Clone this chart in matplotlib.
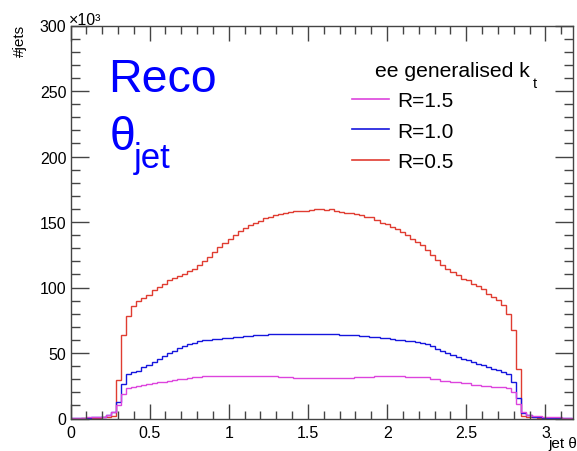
import matplotlib
matplotlib.use("Agg")
import matplotlib.pyplot as plt
import numpy as np
from matplotlib.lines import Line2D
from matplotlib.ticker import MultipleLocator

plt.rcParams['font.family'] = ['Liberation Sans', 'DejaVu Sans']

# jet theta histograms, 100 bins over [0, 3.2], counts in units of 10^3
n_bins = 100
theta_max = 3.2

red = [
    0.0, 0.0, 0.1, 0.2, 0.3, 0.5, 0.8, 1.2, 1.7,
    29.2, 64.0, 78.0, 85.6, 89.7, 92.3, 94.6, 97.9, 100.2, 102.5,
    105.5, 107.6, 108.9, 110.4, 112.4, 114.5, 117.0, 120.4, 123.4, 127.3,
    131.1, 134.1, 137.4, 139.7, 143.3, 145.5, 147.6, 149.4, 151.0, 152.7,
    154.1, 155.2, 155.9, 156.7, 157.5, 158.1, 158.3, 158.6, 158.9, 160.2,
    159.6, 159.1, 159.6, 158.6, 157.9, 157.1, 156.6, 155.8, 155.1, 154.0,
    153.6, 151.5, 149.4, 148.4, 146.4, 144.8, 142.6, 140.0, 137.4, 134.9,
    132.3, 128.5, 124.7, 120.8, 117.0, 114.5, 111.9, 109.4, 106.8, 105.5,
    103.0, 101.2, 98.6, 95.3, 92.8, 90.2, 86.4, 80.0, 67.2, 37.9,
    1.7, 1.2, 0.8, 0.5, 0.3, 0.2, 0.1, 0.0, 0.0, 0.0, 0.0]

blue = [
    0.2, 0.3, 0.4, 0.6, 0.8, 1.0, 1.4, 2.7, 4.8,
    12.9, 26.0, 34.0, 35.4, 36.6, 39.2, 41.2, 43.0, 45.6, 47.6,
    50.2, 51.9, 54.0, 55.7, 56.5, 57.8, 58.8, 59.6, 60.3, 60.9,
    60.9, 61.4, 61.4, 62.2, 62.2, 62.6, 62.8, 63.4, 63.4, 63.9,
    64.2, 64.4, 64.4, 64.5, 64.5, 64.6, 64.6, 64.5, 64.4, 64.4,
    64.4, 64.3, 64.2, 64.2, 64.1, 64.0, 63.8, 63.4, 63.2, 62.8,
    62.5, 62.2, 61.6, 61.2, 60.8, 60.3, 59.8, 59.4, 58.9, 58.5,
    57.5, 56.5, 55.3, 53.2, 51.9, 50.2, 48.1, 46.9, 45.6, 44.3,
    43.5, 41.7, 40.9, 39.2, 37.9, 37.4, 35.4, 34.1, 27.7, 15.5,
    4.2, 2.5, 1.5, 1.0, 0.7, 0.5, 0.4, 0.3, 0.2, 0.1, 0.0]

magenta = [
    0.3, 0.4, 0.6, 0.8, 1.0, 1.2, 1.5, 2.5, 5.2,
    10.0, 19.0, 23.1, 24.4, 25.1, 25.6, 26.4, 26.9, 27.7, 28.2,
    28.9, 29.5, 30.0, 30.5, 31.0, 31.5, 32.0, 32.2, 32.4, 32.6,
    32.7, 32.8, 32.8, 32.8, 32.8, 32.8, 32.8, 32.8, 32.8, 32.8,
    32.6, 32.3, 32.0, 31.6, 31.3, 31.0, 30.8, 30.8, 30.8, 30.8,
    30.8, 30.9, 31.0, 31.0, 31.0, 31.0, 31.2, 31.5, 31.7, 31.9,
    32.0, 32.2, 32.3, 32.3, 32.3, 32.3, 32.1, 32.0, 31.9, 31.8,
    31.6, 31.5, 30.2, 30.0, 29.0, 28.8, 27.7, 27.5, 27.0, 26.8,
    25.6, 25.4, 25.1, 24.9, 24.4, 24.2, 23.9, 23.1, 20.0, 11.1,
    5.0, 2.7, 1.8, 1.8, 0.9, 0.9, 0.9, 0.9, 0.5, 0.2, 0.0]

labels = ["R=1.5", "R=1.0", "R=0.5"]
colors = ["#dd44dd", "#1515dd", "#e03c31"]

W, H = 577, 452
fig = plt.figure(figsize=(W / 100, H / 100), dpi=100)


def px(x, y):
    return x / W, 1 - y / H


ax = fig.add_axes([70.5 / W, 1 - 419.5 / H, (572.7 - 70.5) / W, (419.5 - 26.5) / H])

edges = np.linspace(0, theta_max, n_bins + 1)
ax.stairs(red, edges, color=colors[2], lw=1.0)
ax.stairs(blue, edges, color=colors[1], lw=1.0)
ax.stairs(magenta, edges, color=colors[0], lw=1.0)

ax.set_xlim(0, 3.172)
ax.set_ylim(0, 300)
ax.xaxis.set_major_locator(MultipleLocator(0.5))
ax.xaxis.set_minor_locator(MultipleLocator(0.1))
ax.yaxis.set_major_locator(MultipleLocator(50))
ax.yaxis.set_minor_locator(MultipleLocator(10))
ax.xaxis.set_major_formatter(matplotlib.ticker.FormatStrFormatter('%g'))
ax.yaxis.set_major_formatter(matplotlib.ticker.FormatStrFormatter('%g'))

ax.tick_params(which='both', direction='in', top=True, right=True,
               color='#444444', labelsize=11.5)
ax.tick_params(axis='y', which='major', length=13, width=1, pad=3)
ax.tick_params(axis='y', which='minor', length=6.5, width=1)
ax.tick_params(axis='x', which='major', length=11, width=1, pad=5)
ax.tick_params(axis='x', which='minor', length=5.5, width=1)
for s in ax.spines.values():
    s.set_color('#444444')
    s.set_linewidth(1)

# axis titles, ROOT style
fig.text(*px(20, 25), "#jets", rotation=90, ha='center', va='top', fontsize=11)
fig.text(*px(577, 444), "jet θ", ha='right', va='center', fontsize=11)
fig.text(*px(69, 25), "×10³", ha='left', va='baseline', fontsize=11.5)

# Reco theta_jet label
fig.text(*px(108, 92), "Reco", ha='left', va='baseline', fontsize=33.5, color='#0000ff')
fig.text(*px(110, 150), "θ", ha='left', va='baseline', fontsize=33.5, color='#0000ff')
fig.text(*px(134, 168), "jet", ha='left', va='baseline', fontsize=25, color='#0000ff')

# legend
fig.text(*px(375, 77), "ee generalised k", ha='left', va='baseline', fontsize=15.2)
fig.text(*px(533, 88), "t", ha='left', va='baseline', fontsize=10.5)
handles = [Line2D([], [], color=c, lw=1.2) for c in colors]
ax.legend(handles=handles, labels=labels, loc='upper left',
          bbox_to_anchor=px(351.7, 92), bbox_transform=fig.transFigure,
          frameon=False, fontsize=15, handlelength=1.8, handletextpad=0.4,
          labelspacing=0.56, borderpad=0, borderaxespad=0)

fig.savefig("out.png", dpi=100)
